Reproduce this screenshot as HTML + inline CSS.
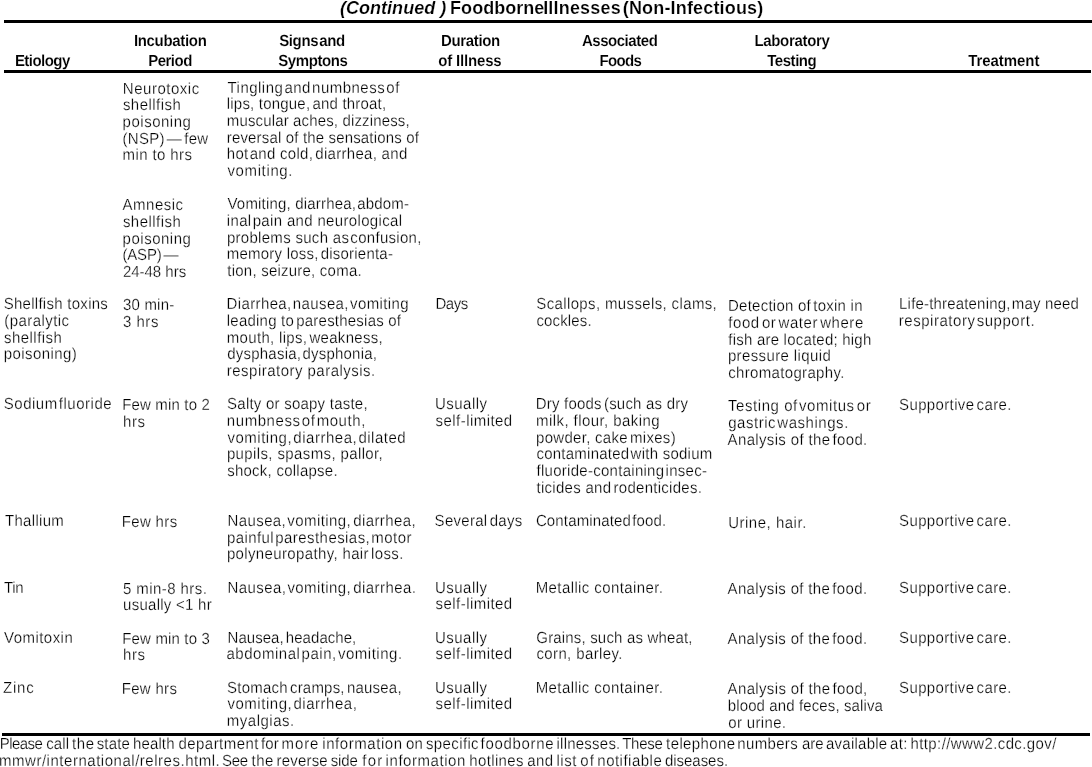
<!DOCTYPE html>
<html lang="en"><head><meta charset="utf-8"><title>Foodborne Illnesses (Non-Infectious)</title>
<style>
html,body{margin:0;padding:0;background:#fff;}
body{width:1092px;height:767px;position:relative;overflow:hidden;font-family:"Liberation Sans",Arial,Helvetica,sans-serif;color:#000;}
.l{position:absolute;white-space:pre;height:20px;line-height:20px;font-size:15px;-webkit-font-smoothing:antialiased;}
.n{font-weight:400;-webkit-text-stroke:0.24px #fff;text-rendering:geometricPrecision;transform:scaleY(1.07);transform-origin:0 14px;}
.b{font-weight:700;-webkit-text-stroke:0.12px #fff;text-rendering:geometricPrecision;transform:scaleY(1.07);transform-origin:0 14px;}
.t{font-weight:700;font-size:18px;-webkit-text-stroke:0.2px #fff;}
.ti{font-weight:700;font-style:italic;font-size:18px;-webkit-text-stroke:0.2px #fff;}
.g1{letter-spacing:-2px;}
.g2{letter-spacing:-3px;}
.rule{position:absolute;background:#000;}
</style></head>
<body>
<div class="rule" style="left:4px;top:20px;width:1088px;height:3px"></div>
<div class="rule" style="left:4px;top:70px;width:1087px;height:3px"></div>
<div class="rule" style="left:2px;top:733px;width:1088px;height:3px"></div>
<div class="title">
<span class="l ti" style="left:340.0px;top:-2px;letter-spacing:0.024px">(Continued )</span>
<span class="l t" style="left:450.1px;top:-2px;letter-spacing:0.021px">Foodborne</span>
<span class="l t" style="left:543.2px;top:-2px;letter-spacing:0.176px">Illnesses</span>
<span class="l t" style="left:622.8px;top:-2px;letter-spacing:0.167px">(Non-Infectious)</span>
</div>
<div class="head">
<span class="l b" style="left:14.9px;top:52px;letter-spacing:-0.531px">Etiology</span>
<span class="l b" style="left:133.9px;top:32px;letter-spacing:-0.320px">Incubation</span>
<span class="l b" style="left:148.2px;top:52px;letter-spacing:-0.500px">Period</span>
<span class="l b" style="left:279.2px;top:32px;letter-spacing:-0.375px">Signs<span class="g2"> </span>and</span>
<span class="l b" style="left:278.2px;top:52px;letter-spacing:-0.405px">Symptons</span>
<span class="l b" style="left:440.9px;top:32px;letter-spacing:-0.326px">Duration</span>
<span class="l b" style="left:438.3px;top:52px;letter-spacing:-0.180px">of Illness</span>
<span class="l b" style="left:581.9px;top:32px;letter-spacing:-0.459px">Associated</span>
<span class="l b" style="left:599.4px;top:52px;letter-spacing:-0.621px">Foods</span>
<span class="l b" style="left:754.4px;top:32px;letter-spacing:-0.314px">Laboratory</span>
<span class="l b" style="left:767.2px;top:52px;letter-spacing:-0.446px">Testing</span>
<span class="l b" style="left:968.2px;top:52px;letter-spacing:-0.056px">Treatment</span>
</div>
<div class="cell">
<span class="l n" style="left:122.8px;top:80px;letter-spacing:0.524px">Neurotoxic</span>
<span class="l n" style="left:122.9px;top:96px;letter-spacing:0.455px">shellfish</span>
<span class="l n" style="left:122.6px;top:113px;letter-spacing:0.513px">poisoning</span>
<span class="l n" style="left:122.6px;top:130px;letter-spacing:0.245px">(NSP)<span class="g1"> </span>—<span class="g1"> </span>few</span>
<span class="l n" style="left:122.5px;top:146px;letter-spacing:0.407px">min to hrs</span>
</div>
<div class="cell">
<span class="l n" style="left:227.5px;top:79px;letter-spacing:0.477px">Tingling<span class="g2"> </span>and<span class="g2"> </span>numbness<span class="g2"> </span>of</span>
<span class="l n" style="left:226.8px;top:95px;letter-spacing:0.197px">lips, tongue,<span class="g1"> </span>and throat,</span>
<span class="l n" style="left:226.8px;top:112px;letter-spacing:0.143px">muscular aches, dizziness,</span>
<span class="l n" style="left:226.8px;top:129px;letter-spacing:0.157px">reversal of the sensations of</span>
<span class="l n" style="left:226.8px;top:145px;letter-spacing:0.289px">hot<span class="g2"> </span>and cold,<span class="g1"> </span>diarrhea, and</span>
<span class="l n" style="left:227.4px;top:162px;letter-spacing:0.636px">vomiting.</span>
</div>
<div class="cell">
<span class="l n" style="left:122.6px;top:196px;letter-spacing:0.498px">Amnesic</span>
<span class="l n" style="left:122.9px;top:213px;letter-spacing:0.455px">shellfish</span>
<span class="l n" style="left:122.6px;top:230px;letter-spacing:0.513px">poisoning</span>
<span class="l n" style="left:122.6px;top:246px;letter-spacing:-0.238px">(ASP)<span class="g1"> </span>—</span>
<span class="l n" style="left:122.9px;top:263px;letter-spacing:-0.012px">24-48 hrs</span>
</div>
<div class="cell">
<span class="l n" style="left:227.5px;top:195px;letter-spacing:0.185px">Vomiting, diarrhea,<span class="g2"> </span>abdom-</span>
<span class="l n" style="left:226.8px;top:212px;letter-spacing:0.337px">inal<span class="g2"> </span>pain and neurological</span>
<span class="l n" style="left:226.9px;top:229px;letter-spacing:0.296px">problems such as<span class="g2"> </span>confusion,</span>
<span class="l n" style="left:226.8px;top:245px;letter-spacing:0.214px">memory loss,<span class="g1"> </span>disorienta-</span>
<span class="l n" style="left:227.3px;top:262px;letter-spacing:0.224px">tion, seizure, coma.</span>
</div>
<div class="cell">
<span class="l n" style="left:3.7px;top:295px;letter-spacing:0.275px">Shellfish toxins</span>
<span class="l n" style="left:4.2px;top:312px;letter-spacing:0.448px">(paralytic</span>
<span class="l n" style="left:4.0px;top:329px;letter-spacing:0.460px">shellfish</span>
<span class="l n" style="left:3.7px;top:345px;letter-spacing:0.434px">poisoning)</span>
</div>
<div class="cell">
<span class="l n" style="left:122.9px;top:296px;letter-spacing:0.220px">30 min-</span>
<span class="l n" style="left:122.9px;top:313px;letter-spacing:0.537px">3 hrs</span>
</div>
<div class="cell">
<span class="l n" style="left:226.5px;top:295px;letter-spacing:0.384px">Diarrhea,<span class="g2"> </span>nausea,<span class="g2"> </span>vomiting</span>
<span class="l n" style="left:226.8px;top:312px;letter-spacing:0.220px">leading to<span class="g1"> </span>paresthesias of</span>
<span class="l n" style="left:226.8px;top:329px;letter-spacing:0.312px">mouth, lips,<span class="g1"> </span>weakness,</span>
<span class="l n" style="left:227.2px;top:345px;letter-spacing:0.229px">dysphasia,<span class="g2"> </span>dysphonia,</span>
<span class="l n" style="left:226.8px;top:362px;letter-spacing:0.477px">respiratory paralysis.</span>
</div>
<div class="cell">
<span class="l n" style="left:435.4px;top:295px;letter-spacing:-0.442px">Days</span>
</div>
<div class="cell">
<span class="l n" style="left:536.3px;top:295px;letter-spacing:0.365px">Scallops, mussels, clams,</span>
<span class="l n" style="left:536.4px;top:312px;letter-spacing:0.154px">cockles.</span>
</div>
<div class="cell">
<span class="l n" style="left:728.0px;top:297px;letter-spacing:0.249px">Detection of<span class="g1"> </span>toxin in</span>
<span class="l n" style="left:728.3px;top:314px;letter-spacing:0.557px">food<span class="g1"> </span>or<span class="g1"> </span>water<span class="g1"> </span>where</span>
<span class="l n" style="left:728.3px;top:331px;letter-spacing:0.215px">fish are located; high</span>
<span class="l n" style="left:727.9px;top:347px;letter-spacing:0.382px">pressure liquid</span>
<span class="l n" style="left:728.2px;top:364px;letter-spacing:0.336px">chromatography.</span>
</div>
<div class="cell">
<span class="l n" style="left:899.1px;top:295px;letter-spacing:0.179px">Life-threatening,<span class="g2"> </span>may need</span>
<span class="l n" style="left:898.8px;top:312px;letter-spacing:0.531px">respiratory<span class="g2"> </span>support.</span>
</div>
<div class="cell">
<span class="l n" style="left:3.8px;top:395px;letter-spacing:0.504px">Sodium<span class="g2"> </span>fluoride</span>
</div>
<div class="cell">
<span class="l n" style="left:122.2px;top:396px;letter-spacing:0.160px">Few min to 2</span>
<span class="l n" style="left:123.1px;top:413px;letter-spacing:0.537px">hrs</span>
</div>
<div class="cell">
<span class="l n" style="left:227.1px;top:395px;letter-spacing:0.229px">Salty or soapy taste,</span>
<span class="l n" style="left:226.8px;top:412px;letter-spacing:0.574px">numbness<span class="g2"> </span>of<span class="g2"> </span>mouth,</span>
<span class="l n" style="left:227.4px;top:429px;letter-spacing:0.522px">vomiting,<span class="g2"> </span>diarrhea,<span class="g2"> </span>dilated</span>
<span class="l n" style="left:226.9px;top:445px;letter-spacing:0.378px">pupils, spasms, pallor,</span>
<span class="l n" style="left:227.2px;top:462px;letter-spacing:0.243px">shock, collapse.</span>
</div>
<div class="cell">
<span class="l n" style="left:435.0px;top:395px;letter-spacing:0.473px">Usually</span>
<span class="l n" style="left:435.6px;top:412px;letter-spacing:0.446px">self-limited</span>
</div>
<div class="cell">
<span class="l n" style="left:535.7px;top:395px;letter-spacing:0.209px">Dry foods<span class="g1"> </span>(such as dry</span>
<span class="l n" style="left:536.0px;top:412px;letter-spacing:0.432px">milk, flour, baking</span>
<span class="l n" style="left:536.1px;top:429px;letter-spacing:0.283px">powder, cake<span class="g1"> </span>mixes)</span>
<span class="l n" style="left:536.4px;top:445px;letter-spacing:0.248px">contaminated<span class="g2"> </span>with sodium</span>
<span class="l n" style="left:536.5px;top:462px;letter-spacing:0.278px">fluoride-containing<span class="g2"> </span>insec-</span>
<span class="l n" style="left:536.5px;top:479px;letter-spacing:0.282px">ticides and<span class="g1"> </span>rodenticides.</span>
</div>
<div class="cell">
<span class="l n" style="left:728.0px;top:397px;letter-spacing:0.562px">Testing of<span class="g2"> </span>vomitus<span class="g1"> </span>or</span>
<span class="l n" style="left:728.2px;top:414px;letter-spacing:0.538px">gastric<span class="g2"> </span>washings.</span>
<span class="l n" style="left:727.6px;top:431px;letter-spacing:0.346px">Analysis of the<span class="g1"> </span>food.</span>
</div>
<div class="cell">
<span class="l n" style="left:899.1px;top:396px;letter-spacing:0.360px">Supportive<span class="g1"> </span>care.</span>
</div>
<div class="cell">
<span class="l n" style="left:5.0px;top:512px;letter-spacing:0.306px">Thallium</span>
</div>
<div class="cell">
<span class="l n" style="left:121.7px;top:513px;letter-spacing:0.356px">Few hrs</span>
</div>
<div class="cell">
<span class="l n" style="left:227.5px;top:512px;letter-spacing:0.402px">Nausea,<span class="g2"> </span>vomiting,<span class="g1"> </span>diarrhea,</span>
<span class="l n" style="left:226.9px;top:529px;letter-spacing:0.435px">painful<span class="g2"> </span>paresthesias,<span class="g2"> </span>motor</span>
<span class="l n" style="left:226.9px;top:545px;letter-spacing:0.359px">polyneuropathy, hair<span class="g1"> </span>loss.</span>
</div>
<div class="cell">
<span class="l n" style="left:434.6px;top:512px;letter-spacing:0.284px">Several<span class="g1"> </span>days</span>
</div>
<div class="cell">
<span class="l n" style="left:535.9px;top:512px;letter-spacing:0.146px">Contaminated<span class="g2"> </span>food.</span>
</div>
<div class="cell">
<span class="l n" style="left:728.2px;top:514px;letter-spacing:0.508px">Urine, hair.</span>
</div>
<div class="cell">
<span class="l n" style="left:899.1px;top:512px;letter-spacing:0.360px">Supportive<span class="g1"> </span>care.</span>
</div>
<div class="cell">
<span class="l n" style="left:4.0px;top:579px;letter-spacing:-0.282px">Tin</span>
</div>
<div class="cell">
<span class="l n" style="left:122.9px;top:580px;letter-spacing:0.438px">5 min-8 hrs.</span>
<span class="l n" style="left:123.1px;top:596px;letter-spacing:0.256px">usually &lt;1 hr</span>
</div>
<div class="cell">
<span class="l n" style="left:227.5px;top:579px;letter-spacing:0.411px">Nausea,<span class="g2"> </span>vomiting,<span class="g1"> </span>diarrhea.</span>
</div>
<div class="cell">
<span class="l n" style="left:435.0px;top:579px;letter-spacing:0.473px">Usually</span>
<span class="l n" style="left:435.6px;top:595px;letter-spacing:0.446px">self-limited</span>
</div>
<div class="cell">
<span class="l n" style="left:535.7px;top:579px;letter-spacing:0.403px">Metallic container.</span>
</div>
<div class="cell">
<span class="l n" style="left:727.6px;top:580px;letter-spacing:0.335px">Analysis of the<span class="g1"> </span>food.</span>
</div>
<div class="cell">
<span class="l n" style="left:899.1px;top:579px;letter-spacing:0.360px">Supportive<span class="g1"> </span>care.</span>
</div>
<div class="cell">
<span class="l n" style="left:4.0px;top:629px;letter-spacing:0.465px">Vomitoxin</span>
</div>
<div class="cell">
<span class="l n" style="left:122.3px;top:630px;letter-spacing:0.151px">Few min to 3</span>
<span class="l n" style="left:123.1px;top:646px;letter-spacing:0.537px">hrs</span>
</div>
<div class="cell">
<span class="l n" style="left:227.5px;top:629px;letter-spacing:0.043px">Nausea,<span class="g1"> </span>headache,</span>
<span class="l n" style="left:226.5px;top:645px;letter-spacing:0.520px">abdominal<span class="g2"> </span>pain,<span class="g2"> </span>vomiting.</span>
</div>
<div class="cell">
<span class="l n" style="left:435.0px;top:629px;letter-spacing:0.473px">Usually</span>
<span class="l n" style="left:435.6px;top:645px;letter-spacing:0.446px">self-limited</span>
</div>
<div class="cell">
<span class="l n" style="left:536.3px;top:629px;letter-spacing:0.173px">Grains, such as wheat,</span>
<span class="l n" style="left:536.4px;top:645px;letter-spacing:0.388px">corn, barley.</span>
</div>
<div class="cell">
<span class="l n" style="left:727.6px;top:630px;letter-spacing:0.335px">Analysis of the<span class="g1"> </span>food.</span>
</div>
<div class="cell">
<span class="l n" style="left:899.1px;top:629px;letter-spacing:0.360px">Supportive<span class="g1"> </span>care.</span>
</div>
<div class="cell">
<span class="l n" style="left:3.1px;top:679px;letter-spacing:0.734px">Zinc</span>
</div>
<div class="cell">
<span class="l n" style="left:121.7px;top:680px;letter-spacing:0.309px">Few hrs</span>
</div>
<div class="cell">
<span class="l n" style="left:227.1px;top:679px;letter-spacing:0.209px">Stomach<span class="g1"> </span>cramps,<span class="g1"> </span>nausea,</span>
<span class="l n" style="left:227.4px;top:695px;letter-spacing:0.533px">vomiting,<span class="g2"> </span>diarrhea,</span>
<span class="l n" style="left:226.8px;top:712px;letter-spacing:0.503px">myalgias.</span>
</div>
<div class="cell">
<span class="l n" style="left:435.0px;top:679px;letter-spacing:0.473px">Usually</span>
<span class="l n" style="left:435.6px;top:695px;letter-spacing:0.446px">self-limited</span>
</div>
<div class="cell">
<span class="l n" style="left:535.7px;top:679px;letter-spacing:0.403px">Metallic container.</span>
</div>
<div class="cell">
<span class="l n" style="left:727.6px;top:680px;letter-spacing:0.347px">Analysis of the<span class="g1"> </span>food,</span>
<span class="l n" style="left:727.8px;top:697px;letter-spacing:0.115px">blood and feces, saliva</span>
<span class="l n" style="left:728.2px;top:714px;letter-spacing:0.350px">or urine.</span>
</div>
<div class="cell">
<span class="l n" style="left:899.1px;top:679px;letter-spacing:0.360px">Supportive<span class="g1"> </span>care.</span>
</div>
<div class="foot">
<span class="l n" style="left:-0.2px;top:735px;letter-spacing:-0.569px">Please </span>
<span class="l n" style="left:46.2px;top:735px;letter-spacing:0.123px">call </span>
<span class="l n" style="left:72.1px;top:735px;letter-spacing:0.582px">the </span>
<span class="l n" style="left:96.7px;top:735px;letter-spacing:0.159px">state </span>
<span class="l n" style="left:133.0px;top:735px;letter-spacing:0.122px">health </span>
<span class="l n" style="left:178.5px;top:735px;letter-spacing:0.447px">department </span>
<span class="l n" style="left:261.1px;top:735px;letter-spacing:0.027px">for </span>
<span class="l n" style="left:281.5px;top:735px;letter-spacing:0.922px">more </span>
<span class="l n" style="left:322.3px;top:735px;letter-spacing:0.556px">information </span>
<span class="l n" style="left:406.0px;top:735px;letter-spacing:0.110px">on </span>
<span class="l n" style="left:426.0px;top:735px;letter-spacing:0.372px">specific </span>
<span class="l n" style="left:480.6px;top:735px;letter-spacing:0.669px">foodborne </span>
<span class="l n" style="left:556.5px;top:735px;letter-spacing:0.233px">illnesses. </span>
<span class="l n" style="left:622.2px;top:735px;letter-spacing:-0.265px">These </span>
<span class="l n" style="left:666.1px;top:735px;letter-spacing:0.390px">telephone </span>
<span class="l n" style="left:737.3px;top:735px;letter-spacing:0.337px">numbers </span>
<span class="l n" style="left:801.9px;top:735px;letter-spacing:0.035px">are </span>
<span class="l n" style="left:826.0px;top:735px;letter-spacing:0.240px">available </span>
<span class="l n" style="left:889.9px;top:735px;letter-spacing:0.408px">at: </span>
<span class="l n" style="left:910.5px;top:735px;letter-spacing:0.393px">http://www2.cdc.gov/</span>
</div>
<div class="foot">
<span class="l n" style="left:-1.0px;top:752px;letter-spacing:0.524px">mmwr/international/relres.html. </span>
<span class="l n" style="left:222.1px;top:752px;letter-spacing:-0.300px">See </span>
<span class="l n" style="left:251.6px;top:752px;letter-spacing:0.465px">the </span>
<span class="l n" style="left:276.5px;top:752px;letter-spacing:0.192px">reverse </span>
<span class="l n" style="left:330.7px;top:752px;letter-spacing:-0.122px">side </span>
<span class="l n" style="left:362.3px;top:752px;letter-spacing:1.176px">for </span>
<span class="l n" style="left:385.6px;top:752px;letter-spacing:0.556px">information </span>
<span class="l n" style="left:469.3px;top:752px;letter-spacing:0.356px">hotlines </span>
<span class="l n" style="left:527.2px;top:752px;letter-spacing:0.400px">and </span>
<span class="l n" style="left:556.5px;top:752px;letter-spacing:0.512px">list </span>
<span class="l n" style="left:580.2px;top:752px;letter-spacing:1.267px">of </span>
<span class="l n" style="left:597.3px;top:752px;letter-spacing:0.488px">notifiable </span>
<span class="l n" style="left:664.9px;top:752px;letter-spacing:-0.021px">diseases.</span>
</div>
</body></html>
